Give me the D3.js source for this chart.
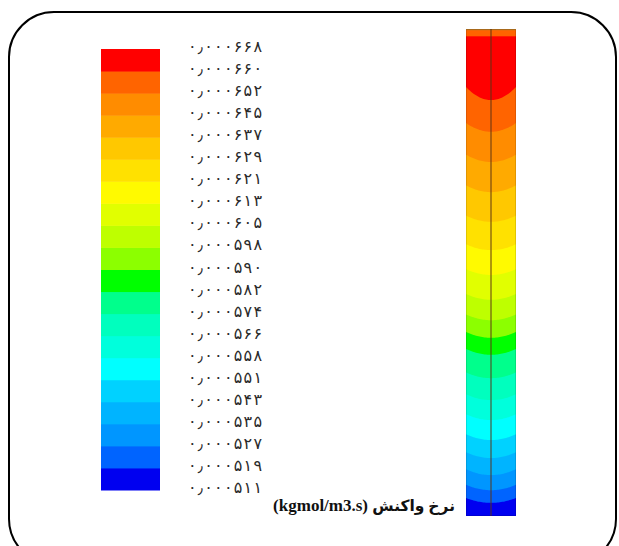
<!DOCTYPE html>
<html>
<head>
<meta charset="utf-8">
<script src="https://cdn.jsdelivr.net/npm/d3@7"></script>
<style>
  html, body { margin: 0; padding: 0; background: #fff; }
  svg { display: block; }
</style>
</head>
<body>
<svg id="chart" width="619" height="546"></svg>
<script>
// ---------------- DATA ----------------
// contour levels (kgmol/m3.s), bottom to top
const levels = [0.000511, 0.000519, 0.000527, 0.000535, 0.000543, 0.000551, 0.000558,
                0.000566, 0.000574, 0.000582, 0.000590, 0.000598, 0.000605, 0.000613,
                0.000621, 0.000629, 0.000637, 0.000645, 0.000652, 0.000660, 0.000668];
// tick labels shown next to the colour bar (Persian digits), bottom to top
const tickLabels = ["۰٫۰۰۰۵۱۱", "۰٫۰۰۰۵۱۹", "۰٫۰۰۰۵۲۷", "۰٫۰۰۰۵۳۵", "۰٫۰۰۰۵۴۳", "۰٫۰۰۰۵۵۱",
                    "۰٫۰۰۰۵۵۸", "۰٫۰۰۰۵۶۶", "۰٫۰۰۰۵۷۴", "۰٫۰۰۰۵۸۲", "۰٫۰۰۰۵۹۰", "۰٫۰۰۰۵۹۸",
                    "۰٫۰۰۰۶۰۵", "۰٫۰۰۰۶۱۳", "۰٫۰۰۰۶۲۱", "۰٫۰۰۰۶۲۹", "۰٫۰۰۰۶۳۷", "۰٫۰۰۰۶۴۵",
                    "۰٫۰۰۰۶۵۲", "۰٫۰۰۰۶۶۰", "۰٫۰۰۰۶۶۸"];
// band colours, bottom (lowest) to top (highest)
const bandColors = ["#0000f0", "#0064ff", "#0096ff", "#00b4ff", "#00d2ff", "#00ffff",
                    "#00ffdc", "#00ffbe", "#00ff8c", "#00ff00", "#8cff00", "#beff00",
                    "#e1ff00", "#fffa00", "#ffe100", "#ffc800", "#ffaa00", "#ff8c00",
                    "#ff6400", "#ff0000"];
// axial position (fraction of column height, 0 = bottom) where each interior level
// (levels[1] .. levels[19]) crosses the column axis, and where it meets the wall
const axisCross = [0.027, 0.053, 0.084, 0.119, 0.156, 0.197, 0.238, 0.283, 0.331, 0.366,
                   0.402, 0.444, 0.495, 0.546, 0.604, 0.665, 0.727, 0.789, 0.854];
const wallCross = [0.037, 0.064, 0.096, 0.131, 0.168, 0.209, 0.250, 0.295, 0.343, 0.378,
                   0.414, 0.456, 0.507, 0.558, 0.617, 0.679, 0.742, 0.807, 0.881];
// region near the top outlet where the rate falls back into the 652–660 band
const topCap = { from: 0.985, band: 18 };
const titleUnit = "(kgmol/m3.s) ";
const titleName = "نرخ واکنش";

// ---------------- DRAW ----------------
const svg = d3.select("#chart");

// rounded frame
svg.append("rect")
  .attr("x", 9).attr("y", 12).attr("width", 607).attr("height", 552)
  .attr("rx", 45).attr("ry", 45)
  .attr("fill", "none").attr("stroke", "#000").attr("stroke-width", 2);

// ---- colour legend ----
const idx = d3.range(levels.length);
const legendY = d3.scaleLinear().domain([0, levels.length - 1]).range([490, 49]);
const legendX = { x0: 101, x1: 160 };

svg.append("g").selectAll("rect")
  .data(bandColors)
  .join("rect")
  .attr("x", legendX.x0)
  .attr("width", legendX.x1 - legendX.x0)
  .attr("y", (d, i) => legendY(i + 1))
  .attr("height", (d, i) => legendY(i) - legendY(i + 1) + 0.5)
  .attr("fill", d => d);

svg.append("g").selectAll("text")
  .data(idx)
  .join("text")
  .attr("x", 188)
  .attr("y", i => legendY(i) + 3)
  .attr("direction", "ltr")
  .attr("font-family", "'DejaVu Sans', sans-serif")
  .attr("font-size", 16)
  .attr("textLength", 74)
  .attr("lengthAdjust", "spacing")
  .attr("fill", "#2a2a2a")
  .text(i => tickLabels[i]);

// ---- contour column ----
const col = { x0: 466, x1: 516, y0: 29, y1: 516 };
const zScale = d3.scaleLinear().domain([0, 1]).range([col.y1, col.y0]);
const rScale = d3.scaleLinear().domain([-1, 1]).range([col.x0, col.x1]);
const rSamples = d3.range(-1, 1.0001, 0.05);

const clip = svg.append("clipPath").attr("id", "colclip");
clip.append("rect").attr("x", col.x0).attr("y", col.y0)
  .attr("width", col.x1 - col.x0).attr("height", col.y1 - col.y0);

const colG = svg.append("g").attr("clip-path", "url(#colclip)");

colG.append("rect")
  .attr("x", col.x0).attr("y", col.y0)
  .attr("width", col.x1 - col.x0).attr("height", col.y1 - col.y0)
  .attr("fill", bandColors[0]);

const polyLine = d3.line().x(d => rScale(d.r)).y(d => zScale(d.z));

axisCross.forEach((zc, k) => {
  const zw = wallCross[k];
  const pts = rSamples.map(r => ({ r, z: zc + (zw - zc) * r * r }));
  const poly = pts.concat([{ r: 1, z: 1.05 }, { r: -1, z: 1.05 }]);
  colG.append("path")
    .attr("d", polyLine(poly) + "Z")
    .attr("fill", bandColors[k + 1]);
});

// top outlet strip
colG.append("rect")
  .attr("x", col.x0).attr("y", zScale(1))
  .attr("width", col.x1 - col.x0)
  .attr("height", zScale(topCap.from) - zScale(1))
  .attr("fill", bandColors[topCap.band]);
colG.append("line")
  .attr("x1", col.x0).attr("x2", col.x1)
  .attr("y1", zScale(1) + 0.5).attr("y2", zScale(1) + 0.5)
  .attr("stroke", "#c0781e").attr("stroke-width", 1.5);

// axis line
colG.append("line")
  .attr("x1", rScale(0)).attr("x2", rScale(0))
  .attr("y1", col.y0).attr("y2", col.y1)
  .attr("stroke", "rgba(90,50,20,0.65)").attr("stroke-width", 1.5);

// faint wall outline
svg.append("rect")
  .attr("x", col.x0 + 0.5).attr("y", col.y0 + 0.5)
  .attr("width", col.x1 - col.x0 - 1).attr("height", col.y1 - col.y0 - 1)
  .attr("fill", "none").attr("stroke", "rgba(0,0,0,0.12)").attr("stroke-width", 1);

// title
const title = svg.append("text")
  .attr("x", 455).attr("y", 511)
  .attr("text-anchor", "end")
  .attr("direction", "ltr")
  .attr("font-family", "'Liberation Serif', 'DejaVu Sans', serif")
  .attr("font-weight", "bold")
  .attr("fill", "#111");
title.append("tspan").attr("font-size", 17).text(titleUnit);
title.append("tspan").attr("font-size", 15.5).text(titleName);
</script>
</body>
</html>
